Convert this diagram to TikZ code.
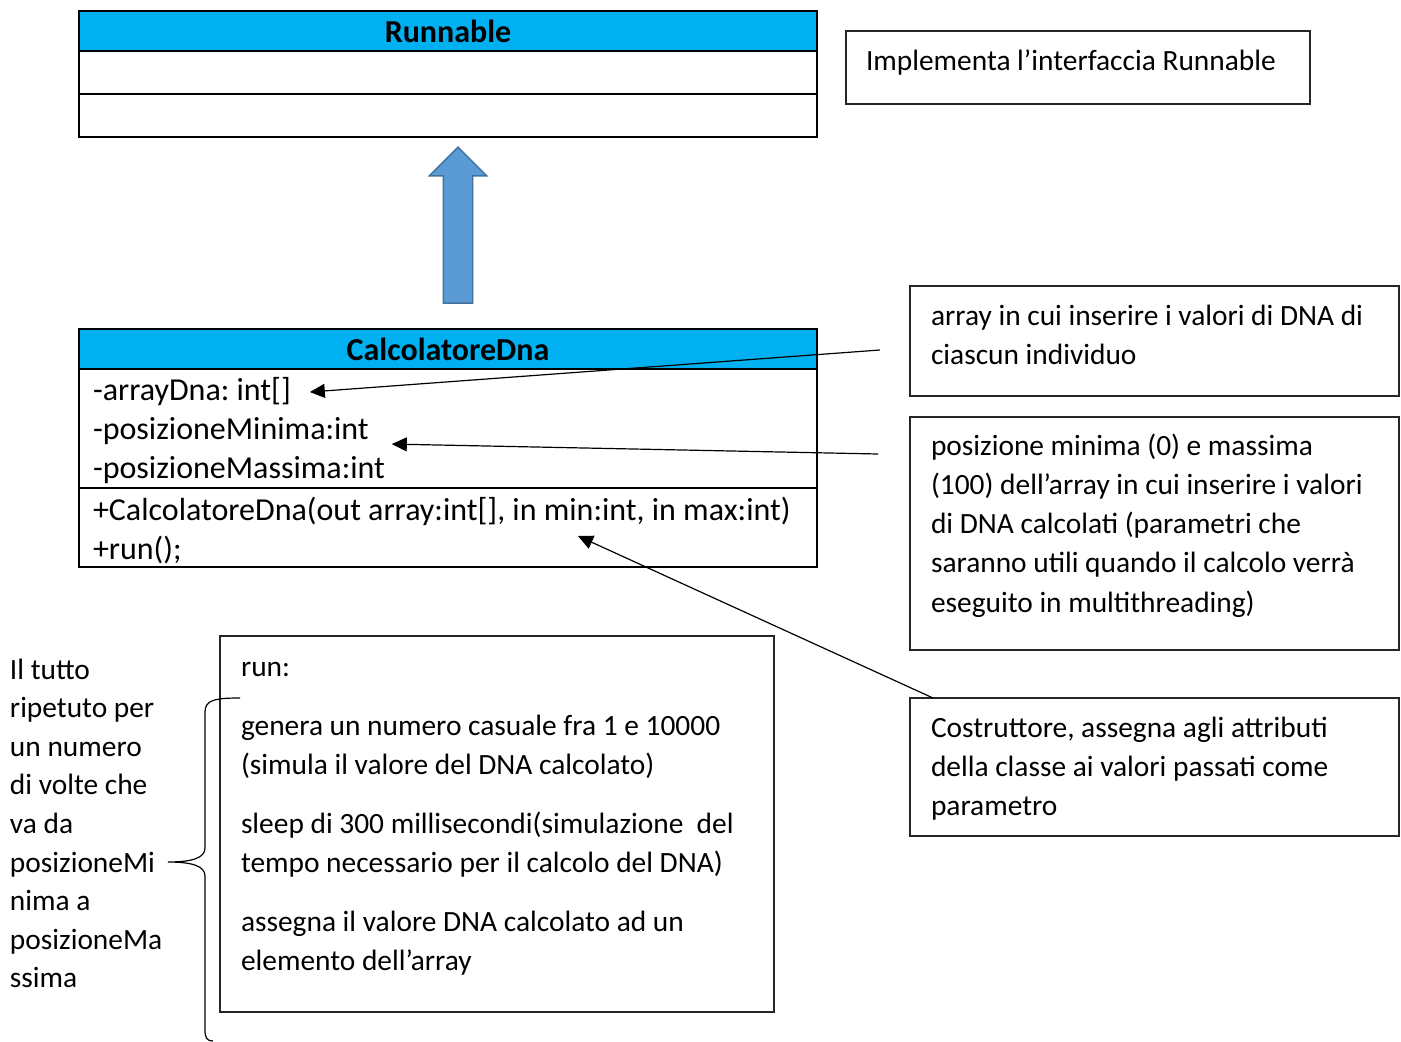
\documentclass[tikz,border=0pt]{standalone}
\usepackage{fontspec}
\setmainfont{Carlito}
\frenchspacing
\usetikzlibrary{arrows.meta,positioning,shapes.arrows}
\definecolor{headblue}{HTML}{00B0F0}
\definecolor{arrowfill}{HTML}{5B9BD5}
\definecolor{arrowedge}{HTML}{41719C}

\begin{document}
\begin{tikzpicture}[x=0.5pt, y=-0.5pt, >={Triangle[length=7.5pt,width=7pt]},
    every node/.style={inner sep=0pt, outer sep=0pt},
    classhead/.style={draw, line width=1.1pt, fill=headblue, minimum width=369pt,
        minimum height=20pt, font=\fontsize{16}{19.5}\selectfont\bfseries},
    classrow/.style={draw, line width=1.1pt, minimum width=369pt},
    member/.style={anchor=base west, font=\fontsize{16}{19.5}\selectfont},
    notebox/.style={draw=black!85, line width=0.6pt, anchor=north west},
    notetext/.style={anchor=base west, text width=#1, align=left,
        font=\fontsize{14.7}{19.5}\selectfont,
        execute at begin node={\spaceskip=0pt\xspaceskip=0pt}},
    notetext/.default=300pt,
    conn/.style={->, line width=0.6pt},
    inherit/.style={single arrow, draw=arrowedge, fill=arrowfill, line width=0.7pt,
        rotate=90, minimum height=78pt, inner xsep=0pt, inner ysep=7pt,
        single arrow head extend=7pt}
    ]
\useasboundingbox (0,0) rectangle (1401,1042);

% Runnable
\node[classhead, anchor=north west] (rhead) at (79,11) {Runnable};
\node[classrow, minimum height=21.5pt, below=0pt of rhead] (rattr) {};
\node[classrow, minimum height=21.5pt, below=0pt of rattr] (rmeth) {};

\node[inherit] (impl) at (458,232.5) {};

% CalcolatoreDna
\node[classhead, anchor=north west] (chead) at (79,329) {CalcolatoreDna};
\node[classrow, minimum height=59.5pt, below=0pt of chead] (cattr) {};
\node[classrow, minimum height=39.5pt, below=0pt of cattr] (cmeth) {};
\node[member] (a1) at (93,401) {-arrayDna: int[]};
\node[member] (a2) at (93,440) {-posizioneMinima:int};
\node[member] (a3) at (93,479) {-posizioneMassima:int};
\node[member] (m1) at (93,520) {+CalcolatoreDna(out array:int[], in min:int, in max:int)};
\node[member] (m2) at (93,559) {+run();};

% notes
\node[notebox, minimum width=232pt, minimum height=36.5pt] (n1) at (846,31) {};
\node[notetext] (t1) at (866,71) {Implementa l’interfaccia Runnable};
\node[notebox, minimum width=244.5pt, minimum height=55pt] (n2) at (910,286) {};
\node[notetext] (t2) at (931,326) {array in cui inserire i valori di DNA di\\
    ciascun individuo};
\node[notebox, minimum width=244.5pt, minimum height=116.5pt] (n3) at (910,417) {};
\node[notetext] (t3) at (931,456) {posizione minima (0) e massima\\
    (100) dell’array in cui inserire i valori\\
    di DNA calcolati (parametri che\\
    saranno utili quando il calcolo verrà\\
    eseguito in multithreading)};
\node[notebox, minimum width=244.5pt, minimum height=69pt] (n4) at (910,698) {};
\node[notetext] (t4) at (931,737) {Costruttore, assegna agli attributi\\
    della classe ai valori passati come\\
    parametro};

% run
\node[notebox, minimum width=277pt, minimum height=188pt] (nrun) at (220,636) {};
\node[notetext] (trun) at (241,676) {run:\\[10pt]
    genera un numero casuale fra 1 e 10000\\
    (simula il valore del DNA calcolato)\\[10pt]
    sleep di 300 millisecondi(simulazione\ \ del\\
    tempo necessario per il calcolo del DNA)\\[10pt]
    assegna il valore DNA calcolato ad un\\
    elemento dell’array};
\node[notetext=85pt, font=\fontsize{14.7}{19.3}\selectfont] (loop) at (10,679)
    {Il tutto\\ripetuto per\\un numero\\di volte che\\va da\\posizioneMi\\nima a\\posizioneMa\\ssima};
\draw[line width=0.6pt] (240,698) .. controls (215,698) and (205,700) .. (205,712)
    -- (205,848) .. controls (205,858) and (192,862) .. (168,862)
    .. controls (192,862) and (205,866) .. (205,876)
    -- (205,1030) .. controls (205,1038) and (207,1041) .. (213,1041);

% connectors
\coordinate (f1) at (880,350);
\coordinate (f2) at (878,454);
\draw[conn] (f1) -- ([xshift=9.5pt]a1.east);
\draw[conn] (f2) -- ([xshift=11.5pt,yshift=-6.25pt]a2.east);
\draw[conn] ([xshift=11.5pt]n4.north west) -- ([xshift=249.5pt,yshift=-24pt]cmeth.north west);
\end{tikzpicture}
\end{document}
